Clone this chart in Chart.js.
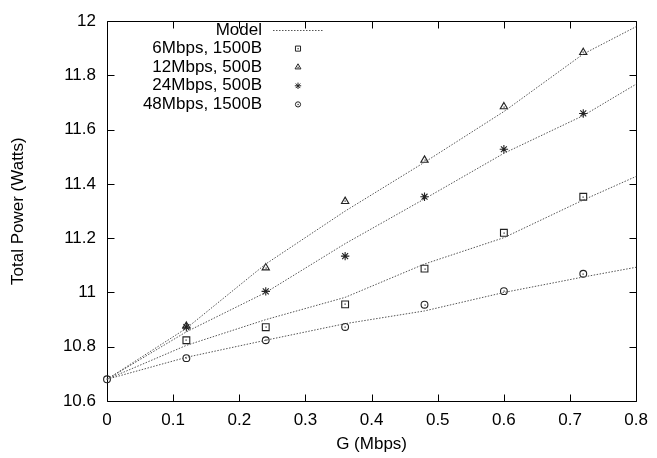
<!DOCTYPE html>
<html><head><meta charset="utf-8">
<script src="https://cdn.jsdelivr.net/npm/chart.js@4/dist/chart.umd.min.js"></script>
<style>html,body{margin:0;padding:0;background:#fff}#wrap{width:657px;height:458px}</style>
</head><body><div id="wrap"><canvas id="c" width="657" height="458" style="width:657px;height:458px"></canvas></div>
<script>
// ---- data ----
const gMeasured = [0.12, 0.24, 0.36, 0.48, 0.6, 0.72];
const gCircle   = [0, 0.12, 0.24, 0.36, 0.48, 0.6, 0.72];
const gModel    = [0, 0.12, 0.24, 0.36, 0.48, 0.6, 0.72, 0.8];

const power6Mbps1500  = [10.824, 10.872, 10.956, 11.088, 11.22, 11.353];
const power12Mbps500  = [10.876, 11.091, 11.336, 11.488, 11.685, 11.885];
const power24Mbps500  = [10.872, 11.004, 11.134, 11.353, 11.528, 11.66];
const power48Mbps1500 = [10.68, 10.758, 10.824, 10.873, 10.955, 11.005, 11.069];

const model6Mbps1500  = [10.68, 10.805, 10.9, 10.982, 11.105, 11.202, 11.341, 11.428];
const model12Mbps500  = [10.68, 10.868, 11.105, 11.30, 11.48, 11.667, 11.879, 11.98];
const model24Mbps500  = [10.68, 10.855, 11.0, 11.18, 11.345, 11.513, 11.652, 11.768];
const model48Mbps1500 = [10.68, 10.761, 10.824, 10.885, 10.932, 11.0, 11.057, 11.093];

const legendLabels = ['Model', '6Mbps, 1500B', '12Mbps, 500B', '24Mbps, 500B', '48Mbps, 1500B'];
const xTickMin = 0, xTickMax = 0.8, xTickStep = 0.1;
const yTickMin = 10.6, yTickMax = 12, yTickStep = 0.2;

// ---- build ----
const pts = (xs, ys) => xs.map((x, i) => ({x, y: ys[i]}));
const FONT = "'Liberation Sans', Arial, Helvetica, sans-serif";
const LINE_COLOR = '#555';
const MARK_COLOR = '#222';

function modelDs(ys) {
  return {label: 'Model', data: pts(gModel, ys), showLine: true, borderColor: LINE_COLOR,
    borderWidth: 1, borderDash: [1.5, 1.5], pointRadius: 0, fill: false, tension: 0, clip: false};
}
function markDs(label, xs, ys, style, r, dot) {
  return {label, data: pts(xs, ys), showLine: false, pointStyle: style, pointRadius: r,
    pointBorderColor: MARK_COLOR, pointBackgroundColor: 'rgba(0,0,0,0)', pointBorderWidth: 1.1,
    clip: false, centerDot: dot};
}

const datasets = [
  modelDs(model6Mbps1500), modelDs(model12Mbps500), modelDs(model24Mbps500), modelDs(model48Mbps1500),
  markDs(legendLabels[1], gMeasured, power6Mbps1500, 'rect', 4.8, true),
  markDs(legendLabels[2], gMeasured, power12Mbps500, 'triangle', 4.2, true),
  markDs(legendLabels[3], gMeasured, power24Mbps500, 'star', 4.2, false),
  markDs(legendLabels[4], gCircle, power48Mbps1500, 'circle', 3.4, true)
];

function drawMarker(ctx, style, x, y, r) {
  ctx.beginPath();
  if (style === 'rect') { const s = r * Math.SQRT1_2; ctx.rect(x - s, y - s, 2 * s, 2 * s); }
  else if (style === 'triangle') {
    for (let k = 0; k < 3; k++) { const a = k * 2 * Math.PI / 3; const px = x + Math.sin(a) * r, py = y - Math.cos(a) * r; k ? ctx.lineTo(px, py) : ctx.moveTo(px, py); }
    ctx.closePath();
  } else if (style === 'star') {
    ctx.moveTo(x, y - r); ctx.lineTo(x, y + r); ctx.moveTo(x - r, y); ctx.lineTo(x + r, y);
    const d = r * Math.SQRT1_2; ctx.moveTo(x - d, y - d); ctx.lineTo(x + d, y + d); ctx.moveTo(x - d, y + d); ctx.lineTo(x + d, y - d);
  } else { ctx.arc(x, y, r, 0, Math.PI * 2); }
  ctx.stroke();
}

const framePlugin = {
  id: 'frame',
  beforeDatasetsDraw(chart) {
    const {ctx, chartArea: a, scales: {x, y}} = chart;
    ctx.save();
    ctx.strokeStyle = '#000'; ctx.lineWidth = 1;
    const L = Math.round(a.left) + 0.5, R = Math.round(a.right) + 0.5, T = Math.round(a.top) + 0.5, B = Math.round(a.bottom) + 0.5;
    ctx.beginPath();
    ctx.rect(L, T, R - L, B - T);
    const tl = 7;
    x.ticks.forEach(t => { const p = Math.round(x.getPixelForValue(t.value)) + 0.5; ctx.moveTo(p, B); ctx.lineTo(p, B - tl); ctx.moveTo(p, T); ctx.lineTo(p, T + tl); });
    y.ticks.forEach(t => { const p = Math.round(y.getPixelForValue(t.value)) + 0.5; ctx.moveTo(L, p); ctx.lineTo(L + tl, p); ctx.moveTo(R, p); ctx.lineTo(R - tl, p); });
    ctx.stroke();
    ctx.restore();
  },
  afterDatasetsDraw(chart) {
    const ctx = chart.ctx;
    ctx.save(); ctx.fillStyle = MARK_COLOR;
    chart.data.datasets.forEach((ds, i) => {
      if (!ds.centerDot) return;
      chart.getDatasetMeta(i).data.forEach(el => { ctx.fillRect(Math.round(el.x) - 0.5, Math.round(el.y) - 0.5, 1.2, 1.2); });
    });
    ctx.restore();
  },
  afterDraw(chart) {
    const ctx = chart.ctx;
    ctx.save();
    ctx.font = '17px ' + FONT;
    ctx.fillStyle = '#000';
    ctx.textAlign = 'right'; ctx.textBaseline = 'middle';
    const tx = 262, y0 = 30, dy = 18.6, mx = 298;
    legendLabels.forEach((lab, i) => ctx.fillText(lab, tx, y0 + i * dy));
    // model sample
    ctx.strokeStyle = LINE_COLOR; ctx.lineWidth = 1; ctx.setLineDash([1.5, 1.5]);
    ctx.beginPath(); ctx.moveTo(273, y0 + 0.5); ctx.lineTo(323, y0 + 0.5); ctx.stroke();
    ctx.setLineDash([]);
    ctx.strokeStyle = MARK_COLOR;
    const styles = ['rect', 'triangle', 'star', 'circle'];
    const rs = [3.6, 3.4, 3.2, 2.6];
    styles.forEach((s, i) => {
      const yy = y0 + (i + 1) * dy;
      drawMarker(ctx, s, mx, yy, rs[i]);
      if (s !== 'star') { ctx.fillStyle = MARK_COLOR; ctx.fillRect(mx - 0.5, yy - 0.5, 1.2, 1.2); }
    });
    ctx.restore();
  }
};

const fmt = v => String(+Number(v).toFixed(1));

new Chart(document.getElementById('c'), {
  type: 'scatter',
  data: {datasets},
  options: {
    responsive: false, animation: false, devicePixelRatio: 1,
    layout: {padding: {top: 15, right: 17, left: 0, bottom: 0}},
    plugins: {legend: {display: false}, tooltip: {enabled: false}},
    scales: {
      x: {
        type: 'linear', min: xTickMin, max: xTickMax,
        grid: {display: false, drawTicks: false}, border: {display: false},
        ticks: {stepSize: xTickStep, callback: fmt, color: '#000', font: {family: FONT, size: 17}, padding: 9, maxRotation: 0, autoSkip: false},
        title: {display: true, text: 'G (Mbps)', color: '#000', font: {family: FONT, size: 17}, padding: {top: 0, bottom: 3}},
        afterFit: s => { s.height = 57; }
      },
      y: {
        type: 'linear', min: yTickMin, max: yTickMax,
        grid: {display: false, drawTicks: false}, border: {display: false},
        ticks: {stepSize: yTickStep, callback: fmt, color: '#000', font: {family: FONT, size: 17}, padding: 11, autoSkip: false},
        title: {display: true, text: 'Total Power (Watts)', color: '#000', font: {family: FONT, size: 17}, padding: {top: 8, bottom: 0}},
        afterFit: s => { s.width = 107; }
      }
    }
  },
  plugins: [framePlugin]
});
</script>
</body></html>
